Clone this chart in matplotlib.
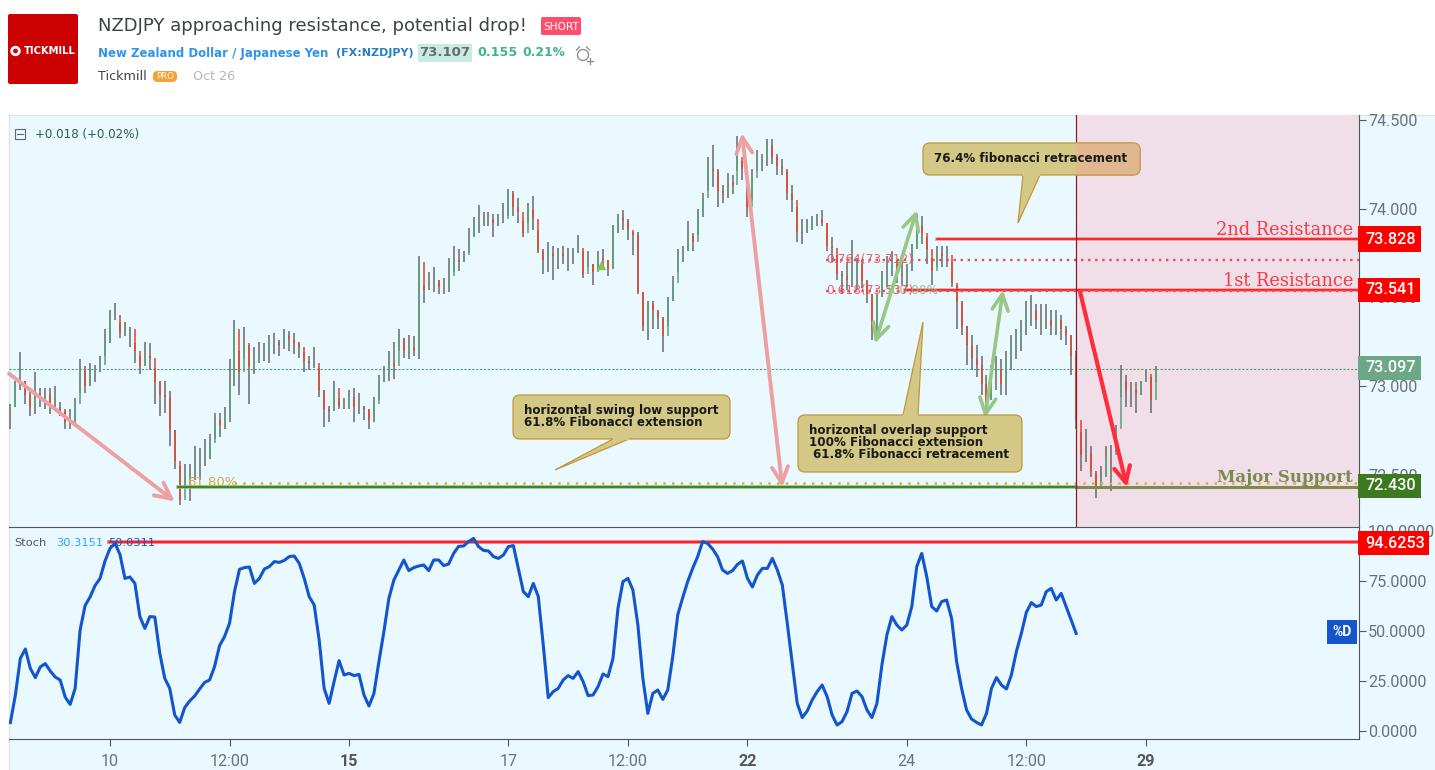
import numpy as np
import matplotlib
matplotlib.use('Agg')
import matplotlib.pyplot as plt
from matplotlib.patches import FancyBboxPatch, Polygon, Rectangle, Circle

highs = [72.90,73.03,73.19,73.03,72.98,73.08,72.99,72.99,72.99,73.00,72.91,72.87,72.87,72.93,73.15,73.11,73.13,73.12,73.17,73.32,
         73.43,73.47,73.36,73.36,73.33,73.24,73.17,73.25,73.24,73.10,73.03,73.03,72.97,72.75,72.55,72.56,72.56,72.66,72.65,72.70,
         72.73,72.85,72.85,72.88,73.15,73.37,73.20,73.33,73.23,73.22,73.25,73.24,73.29,73.30,73.26,73.32,73.31,73.30,73.25,73.19,
         73.17,73.22,73.10,72.98,72.89,73.03,72.93,72.93,72.98,72.99,72.96,72.89,72.87,72.94,73.06,73.11,73.20,73.25,73.32,
         73.27,73.29,73.28,73.73,73.57,73.64,73.67,73.60,73.61,73.72,73.79,73.77,73.76,73.89,73.95,74.02,73.98,73.98,73.97,73.97,74.03,
         74.11,74.10,74.06,73.93,74.03,74.07,73.88,73.77,73.81,73.79,73.78,73.79,73.78,73.78,73.85,73.76,73.76,73.69,73.76,73.77,
         73.71,73.91,73.97,73.99,73.94,73.87,73.87,73.53,73.48,73.48,73.43,73.39,73.50,73.62,73.77,73.79,73.93,73.86,74.00,74.09,
         74.29,74.36,74.22,74.13,74.20,74.19,74.41,74.27,74.18,74.22,74.33,74.31,74.39,74.39,74.31,74.28,74.21,74.13,74.01,
         73.94,73.94,73.96,73.97,73.99,73.92,73.84,73.74,73.65,73.70,73.82,73.72,73.71,73.60,73.52,73.52,73.65,73.73,73.76,73.71,
         73.70,73.69,73.80,73.97,73.96,73.84,73.72,73.79,73.79,73.79,73.70,73.57,
         73.48,73.34,73.29,73.23,73.17,73.06,73.12,73.17,73.15,73.20,73.29,73.32,73.37,73.48,73.51,73.46,73.46,73.46,73.43,73.43,
         73.40,73.34,73.29,73.20,72.74,72.76,72.66,72.51,72.55,72.66,72.67,72.78,73.12,73.06,73.02,73.02,73.03,73.09,73.05,73.11]
lows = [72.76,72.88,72.98,72.90,72.83,72.84,72.88,72.87,72.84,72.87,72.83,72.76,72.76,72.78,72.96,72.96,73.00,73.02,73.08,73.17,
        73.24,73.37,73.27,73.28,73.22,73.13,73.07,73.11,73.09,72.90,72.83,72.85,72.66,72.53,72.33,72.43,72.35,72.47,72.47,72.55,
        72.59,72.70,72.71,72.76,72.80,73.00,72.95,73.15,72.90,73.07,73.13,73.14,73.13,73.18,73.17,73.21,73.20,73.18,73.16,73.08,
        73.09,73.10,72.94,72.77,72.80,72.86,72.87,72.87,72.87,72.80,72.84,72.81,72.76,72.80,72.92,73.02,73.03,73.04,73.20,
        73.16,73.15,73.17,73.15,73.47,73.54,73.53,73.52,73.52,73.53,73.64,73.65,73.70,73.75,73.84,73.86,73.90,73.90,73.84,73.90,73.92,
        73.96,73.96,73.92,73.84,73.92,73.88,73.75,73.63,73.64,73.60,73.66,73.69,73.65,73.69,73.75,73.61,73.67,73.57,73.66,73.66,
        73.62,73.66,73.86,73.88,73.82,73.74,73.52,73.31,73.26,73.32,73.32,73.19,73.34,73.48,73.64,73.70,73.76,73.76,73.85,73.95,
        74.10,74.12,74.01,74.03,74.06,74.08,74.21,74.16,73.95,74.05,74.21,74.21,74.24,74.25,74.19,74.19,74.05,73.98,73.81,
        73.80,73.86,73.88,73.90,73.90,73.76,73.70,73.60,73.52,73.54,73.56,73.54,73.55,73.47,73.26,73.28,73.50,73.56,73.62,73.58,
        73.57,73.56,73.65,73.77,73.80,73.69,73.57,73.67,73.67,73.67,73.56,73.32,
        73.29,73.12,73.09,73.05,72.95,72.82,72.92,72.98,72.95,72.95,73.09,73.15,73.20,73.29,73.34,73.32,73.29,73.32,73.29,73.29,
        73.26,73.23,73.06,72.76,72.52,72.57,72.49,72.37,72.44,72.49,72.41,72.63,72.94,72.88,72.88,72.85,72.95,73.02,72.85,73.02]
closes = [72.88,73.01,73.03,72.95,72.88,72.96,72.95,72.95,72.88,72.88,72.86,72.80,72.79,72.90,73.09,73.00,73.08,73.09,73.12,73.24,
          73.40,73.40,73.30,73.32,73.32,73.20,73.11,73.17,73.16,73.02,72.95,72.94,72.75,72.58,72.36,72.49,72.51,72.56,72.60,72.60,
          72.68,72.81,72.78,72.83,73.03,73.32,73.08,73.24,73.11,73.15,73.18,73.19,73.24,73.25,73.23,73.28,73.26,73.24,73.22,73.14,
          73.13,73.13,72.98,72.87,72.86,72.99,72.89,72.89,72.94,72.88,72.88,72.87,72.81,72.90,73.02,73.07,73.13,73.11,73.27,
          73.20,73.22,73.20,73.70,73.54,73.58,73.60,73.56,73.56,73.62,73.71,73.70,73.74,73.84,73.90,73.94,73.94,73.94,73.92,73.94,73.94,
          74.09,74.01,73.98,73.86,74.00,73.94,73.76,73.71,73.75,73.73,73.75,73.73,73.73,73.75,73.78,73.63,73.69,73.64,73.72,73.71,
          73.66,73.90,73.95,73.93,73.88,73.85,73.53,73.33,73.46,73.42,73.39,73.28,73.49,73.58,73.74,73.76,73.85,73.81,73.96,74.06,
          74.22,74.21,74.10,74.09,74.15,74.13,74.29,74.22,74.01,74.17,74.25,74.28,74.36,74.29,74.24,74.22,74.09,74.05,73.87,
          73.86,73.90,73.93,73.94,73.92,73.79,73.78,73.63,73.62,73.60,73.65,73.69,73.59,73.52,73.32,73.50,73.62,73.65,73.69,73.63,
          73.62,73.67,73.77,73.90,73.86,73.77,73.65,73.75,73.73,73.74,73.58,73.47,
          73.34,73.23,73.15,73.12,73.01,72.92,73.06,73.09,73.01,73.15,73.23,73.26,73.34,73.43,73.43,73.37,73.37,73.37,73.34,73.37,
          73.32,73.29,73.17,72.81,72.61,72.62,72.52,72.43,72.49,72.60,72.61,72.76,73.03,72.98,72.98,72.96,73.02,73.07,72.92,73.09]

stoch = [4.2,18,36.3,41,31.3,26.7,32,33.7,30,27,25.5,17,13.3,21.3,50.5,62.7,67,72.7,76.3,85,
         91.3,93.8,88.3,76.3,77,73.8,57.2,51.3,57.2,57,38.8,26.3,21.3,8,4.3,11.7,15,17.5,21,24.3,
         25.5,32.2,42.7,47.2,53.8,69.7,80.8,81.7,82,73.8,76.3,81,82.2,84.7,84.3,85.3,87.2,87.5,83.8,76.3,
         67.2,63,45.5,21.3,13.8,24.7,35.2,28,28.8,27.7,28.3,18,12.5,18.8,34.7,49.7,66.3,75.5,80.5,85.5,
         80.2,81.7,82.5,83,80.2,85.5,85.5,82.7,83.5,88.8,92.3,92.5,94.7,96.3,92.2,90.3,90,87.2,86.3,88,
         92.2,92.7,81.3,69.7,67.2,73.8,67.2,43,16.7,19.7,21.3,25.5,27.7,26.3,29.7,24.7,17.7,18,22.2,28.5,
         27.2,36.3,61.3,74.7,76.3,70.5,53,26.3,8.8,18.8,20.5,15.8,20.5,37.2,58,66.7,74.7,81.3,87.2,94.7,
         93.8,91,87.2,80.5,78.8,80.2,83.3,85,76.3,72,78,81.3,81.3,86.3,80.5,73,53.8,33.8,13.8,6.7,
         10,15.5,19.7,23,17.2,8,3,4.7,9.7,18.8,20,17.2,10.5,6.7,13.8,33,48,57.2,53,50.5,
         53,62.2,82.2,88.8,77.2,62.2,60,64.7,65.5,56.3,34.7,21.3,10.5,6,4.3,3,8.8,21.3,26.7,23,
         21,28,39.7,48.8,59.3,64.2,62.2,63,69.7,71.3,65.5,68.8,62.2,55.5,48.8]

date_ticks = [20, 44, 68, 100, 124, 148, 180, 204, 228]
date_labels = ['10', '12:00', '15', '17', '12:00', '22', '24', '12:00', '29']
bold_labels = ['15', '22', '29']
price_ticks = [72.5, 73.0, 73.5, 74.0, 74.5]
stoch_ticks = [0, 25, 50, 75, 100]

last_price = 73.097
resistance_1 = 73.541
resistance_2 = 73.828
support = 72.430
fib_764 = 73.712
fib_618 = 73.537
fib_ext = 72.452
stoch_level = 94.6253

W, H = 1435, 770
BG = '#e9f9ff'
GRAY = '#6b7276'


def px_axes(fig, left, top, right, bottom):
    return fig.add_axes([left / W, 1 - bottom / H, (right - left) / W, (bottom - top) / H])


fig = plt.figure(figsize=(W / 100, H / 100), dpi=100, facecolor='white')

# page background behind the chart
back = fig.add_axes([0, 0, 1, 1])
back.set_xlim(0, W)
back.set_ylim(H, 0)
back.axis('off')
back.add_patch(Rectangle((9, 115), W - 9, H - 115, color=BG, lw=0))
back.plot([8.5, 8.5], [114, H], color='#dde3e6', lw=1)
back.plot([9, W], [114.5, 114.5], color='#dde3e6', lw=0.8)

ax = px_axes(fig, 9, 115, 1359, 527)
ax2 = px_axes(fig, 9, 527, 1359, 739)
for a in (ax, ax2):
    a.set_facecolor('none')
    a.set_xlim(-0.28, 270.8)
    a.yaxis.tick_right()
    a.tick_params(axis='y', length=5, width=0.8, color='#555555', labelcolor=GRAY, labelsize=11.6, pad=1.5,
                  labelfontfamily='Roboto')
    for side in ('top', 'left', 'bottom'):
        a.spines[side].set_visible(False)
    a.spines['right'].set_color('#555555')

ax.set_ylim(72.2056, 74.527)
ax.set_yticks(price_ticks)
ax.set_yticklabels(['%.3f' % t for t in price_ticks])
ax.set_xticks([])

ax2.set_ylim(-4, 102)
ax2.set_yticks(stoch_ticks)
ax2.set_yticklabels(['%.4f' % t for t in stoch_ticks])
ax2.spines['top'].set_visible(True)
ax2.spines['top'].set_color('#555555')
ax2.spines['bottom'].set_visible(True)
ax2.spines['bottom'].set_color('#555555')
ax2.set_xticks(date_ticks)
ax2.set_xticklabels(date_labels)
ax2.tick_params(axis='x', length=5, width=0.8, color='#555555', labelcolor=GRAY, labelsize=11.6, pad=6,
                labelfontfamily='Roboto')
for lab in ax2.get_xticklabels():
    if lab.get_text() in bold_labels:
        lab.set_fontweight('bold')
        lab.set_color('#555555')

# shaded zone after the publish time
ax.axvspan(214, 270.8, color='#f0dfe8', lw=0, zorder=0)
ax.axvline(214, color='#8a1a2a', lw=0.9, zorder=6)
ax.axhline(last_price, color='#4fa36f', lw=0.8, ls=(0, (2, 1.5)), zorder=1)

# bars
x = np.arange(len(closes))
c = np.array(closes)
opens = np.r_[c[0], c[:-1]]
ax.vlines(x, lows, highs, color='#6e6e6e', lw=1.15, zorder=2)
up = c >= opens
ax.vlines(x[up], opens[up], c[up], color='#5fa37a', lw=1.15, zorder=3)
ax.vlines(x[~up], opens[~up], c[~up], color='#e2492f', lw=1.15, zorder=3)
ax.scatter([118.6], [73.68], marker='^', s=45, color='#8bc34a', lw=0, zorder=4)

# levels
ax.plot([186, 270.8], [resistance_2, resistance_2], color='#ff6b78', lw=2.6, alpha=0.7, zorder=4)
ax.plot([186, 270.8], [resistance_2, resistance_2], color='#f01010', lw=1.1, zorder=4)
ax.plot([179.6, 270.8], [resistance_1, resistance_1], color='#ff6b78', lw=2.6, alpha=0.7, zorder=4)
ax.plot([179.6, 270.8], [resistance_1, resistance_1], color='#f01010', lw=1.1, zorder=4)
ax.plot([163.8, 270.8], [fib_764, fib_764], color='#f2484f', lw=1.7, ls=(0, (1, 2)), zorder=4)
ax.plot([163.8, 270.8], [fib_618, fib_618], color='#f2484f', lw=1.7, ls=(0, (1, 2)), zorder=4)
ax.plot([33.7, 214], [support, support], color='#8cc07a', lw=2.6, zorder=4)
ax.plot([33.7, 214], [support, support], color='#2f6f1a', lw=1.1, zorder=4)
ax.plot([214, 270.8], [support, support], color='#7c8a50', lw=2.2, zorder=4)
ax.plot([45, 270.8], [fib_ext, fib_ext], color='#d8b04a', lw=1.8, ls=(0, (1, 2.5)), zorder=4)
ax.text(163.8, fib_764, '0.764(73.712)', color='#f2484f', alpha=0.85, fontsize=8.8, va='center', zorder=5)
ax.text(181, fib_618, '100.00%', color='#8dc07d', alpha=0.9, fontsize=8.8, va='center', ha='center', zorder=5)
ax.text(163.8, fib_618, '0.618(73.537)', color='#f2484f', alpha=0.85, fontsize=8.8, va='center', zorder=5)
ax.text(35.5, fib_ext + 0.005, '61.80%', color='#d0ac45', fontsize=9.5, va='center', zorder=5)


def arrow(start, end, color, lw, style='->'):
    ax.annotate('', xy=end, xytext=start, zorder=7,
                arrowprops=dict(arrowstyle=style + ',head_length=0.72,head_width=0.36', color=color,
                                lw=lw, shrinkA=0, shrinkB=0, mutation_scale=16))


arrow((-0.28, 73.07), (33, 72.35), '#ee9fa0', 2.8)
arrow((155, 72.43), (146.9, 74.425), '#ee9fa0', 2.8, '<->')
arrow((173.6, 73.24), (182, 73.99), '#97c685', 2.6, '<->')
arrow((195.7, 72.82), (199.3, 73.54), '#97c685', 2.6, '<->')
arrow((214.8, 73.53), (224.2, 72.43), '#ff2d3c', 3.0)

# stochastic
ax2.plot(np.arange(len(stoch)), stoch, color='#1255cc', lw=2.2, zorder=3, solid_joinstyle='round')
ax2.plot([19.8, 270.8], [stoch_level, stoch_level], color='#ff7a84', lw=2.8, zorder=2)
ax2.plot([19.8, 270.8], [stoch_level, stoch_level], color='#f01010', lw=1.1, zorder=2)

# overlay in pixel coordinates for labels, callouts and header
top = fig.add_axes([0, 0, 1, 1], zorder=20)
top.set_xlim(0, W)
top.set_ylim(H, 0)
top.axis('off')


def callout(x0, y0, x1, y1, tail):
    top.add_patch(Polygon(tail, closed=True, fc='#d4c886', ec='#c4963c', lw=0.9, zorder=2))
    top.add_patch(FancyBboxPatch((x0 + 6, y0 + 6), x1 - x0 - 12, y1 - y0 - 12, boxstyle='round,pad=6,rounding_size=7',
                                 fc='#d4c886', ec='#c4963c', lw=0.9, zorder=3))
    top.plot([tail[0][0] + 1, tail[-1][0] - 1], [tail[0][1], tail[-1][1]], color='#d4c886', lw=1.6, zorder=4)


callout(513, 395, 730, 439, [(613, 439), (555, 470), (629, 439)])
callout(798, 415, 1022, 472, [(903, 415), (923, 322), (918, 415)])
callout(923, 143, 1140, 175, [(1023, 175), (1018, 223), (1040, 175)])
# part of the top callout that sits over the shaded zone
over = FancyBboxPatch((929, 149), 205, 20, boxstyle='round,pad=6,rounding_size=7', fc='#e0b78f', ec='#d09a5a', lw=0.9, zorder=4)
top.add_patch(over)
over.set_clip_path(Rectangle((1076, 130), 80, 60, transform=top.transData))

box_font = dict(fontsize=8.55, fontweight='bold', color='#1a1a1a', zorder=6, va='center', family='DejaVu Sans')
top.text(524, 410.5, 'horizontal swing low support', **box_font)
top.text(524, 422.5, '61.8% Fibonacci extension', **box_font)
top.text(809, 430.5, 'horizontal overlap support', **box_font)
top.text(809, 442.5, '100% Fibonacci extension', **box_font)
top.text(813, 454.5, '61.8% Fibonacci retracement', **box_font)
top.text(934, 158.5, '76.4% fibonacci retracement', **box_font)

top.text(1353, 230, '2nd Resistance', color='#f53b47', fontsize=12.9, ha='right', va='center', family='DejaVu Serif')
top.text(1353, 281, '1st Resistance', color='#f53b47', fontsize=12.9, ha='right', va='center', family='DejaVu Serif')
top.text(1353, 477, 'Major Support', color='#7c8a50', fontsize=12, fontweight='bold', ha='right', va='center', family='DejaVu Serif')

tags = [(226, 252, 1421, '#ff0000', '73.828'), (278, 302, 1420, '#ff0000', '73.541'),
        (356, 380, 1421, '#6da886', '73.097'), (474, 498, 1421, '#3b7a1e', '72.430'),
        (531, 555, 1429, '#ff0000', '94.6253')]
for y0, y1, x1, col, txt in tags:
    top.add_patch(Rectangle((1358, y0), x1 - 1358, y1 - y0, color=col, lw=0, zorder=5))
    top.text(1365, (y0 + y1) / 2, txt, color='white', fontsize=11.6, va='center', zorder=6, family='Roboto', fontweight='medium')
top.add_patch(Rectangle((1327, 620), 30, 24, color='#1255cc', lw=0))
top.text(1342, 632, '%D', color='white', fontsize=10, ha='center', va='center', fontweight='bold', family='Roboto')

top.text(14, 543, 'Stoch', color='#555555', fontsize=8.2, va='center')
top.text(56, 543, '30.3151', color='#2aa0ff', fontsize=8.2, va='center')
top.text(108, 543, '50.0311', color='#1255cc', fontsize=8.2, va='center')
top.add_patch(Rectangle((15, 129), 10, 10, fc='none', ec='#666666', lw=0.8))
top.plot([17, 23], [134, 134], color='#666666', lw=0.8)
top.text(35, 134.5, '+0.018 (+0.02%)', color='#2d5f43', fontsize=8.6, va='center')

# header
top.add_patch(FancyBboxPatch((9, 15), 68, 68, boxstyle='round,pad=1,rounding_size=2', fc='#cc0000', ec='#cc0000', lw=0))
top.add_patch(Circle((15.5, 51), 3.8, fc='none', ec='white', lw=2))
top.text(24, 51, 'TICKMILL', color='white', fontsize=7.2, fontweight='bold', va='center')
top.text(98, 26, 'NZDJPY approaching resistance, potential drop!', color='#3d4249', fontsize=13, va='center')
top.add_patch(FancyBboxPatch((542, 18), 38, 16, boxstyle='round,pad=1,rounding_size=2', fc='#ff4d6d', ec='#ff4d6d', lw=0))
top.text(561, 26.5, 'SHORT', color='white', fontsize=7.6, ha='center', va='center')
top.text(98, 53, 'New Zealand Dollar / Japanese Yen', color='#2e93ee', fontsize=8.45, fontweight='bold', va='center')
top.text(414, 53, '(FX:NZDJPY)', color='#2a7fc8', fontsize=8.0, fontweight='bold', va='center', ha='right')
top.add_patch(Rectangle((418, 44), 54, 18, color='#c8ebe1', lw=0))
top.text(445, 53, '73.107', color='#666a6e', fontsize=9.5, fontweight='bold', ha='center', va='center')
top.text(477, 53, '0.155', color='#3fb389', fontsize=9.2, fontweight='bold', va='center')
top.text(522, 53, '0.21%', color='#3fb389', fontsize=8.8, fontweight='bold', va='center')
top.add_patch(Circle((583, 55), 5.5, fc='none', ec='#8a9199', lw=1))
top.plot([579.5, 576.5], [47, 50], color='#8a9199', lw=1)
top.plot([586.5, 589.5], [47, 50], color='#8a9199', lw=1)
top.plot([587, 593], [61, 61], color='#8a9199', lw=1)
top.plot([590, 590], [58, 64], color='#8a9199', lw=1)
top.text(98, 76, 'Tickmill', color='#3d4249', fontsize=9.2, va='center')
top.add_patch(FancyBboxPatch((154, 72), 22, 9, boxstyle='round,pad=1,rounding_size=4.5', fc='#f7a030', ec='#f7a030', lw=0))
top.text(165, 76.5, 'PRO', color='white', fontsize=6.2, ha='center', va='center')
top.text(193, 76, 'Oct 26', color='#b4b8bc', fontsize=9.2, va='center')

fig.savefig('out.png', dpi=100)
plt.close(fig)
